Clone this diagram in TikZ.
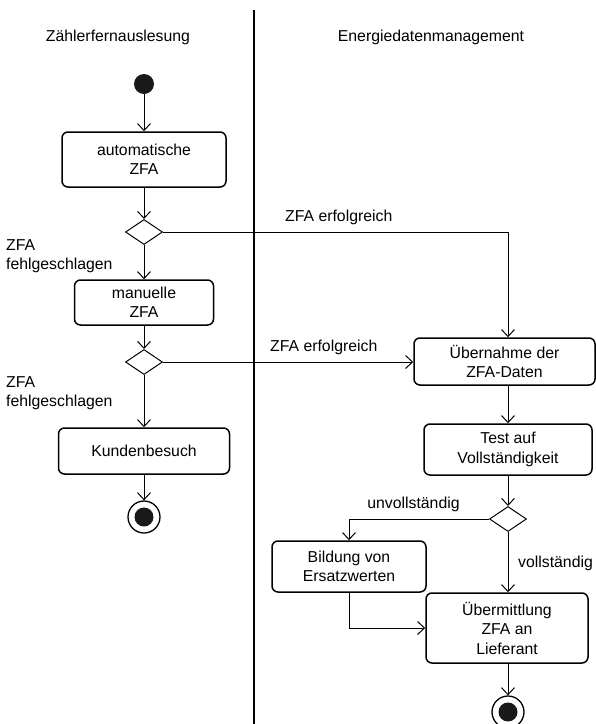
\documentclass[tikz,border=0pt]{standalone}
\usepackage{fontspec}
\setmainfont{Liberation Sans}
\usetikzlibrary{arrows.meta,shapes.geometric,calc}
\begin{document}
\begin{tikzpicture}[x=1pt,y=-1pt,
  every node/.style={font=\fontsize{15.8}{19.5}\selectfont, inner sep=0pt},
  action/.style={draw, line width=1.5pt, rounded corners=6pt, align=center},
  decision/.style={draw, line width=1pt, diamond, aspect=1.48, minimum width=37pt, minimum height=25pt, inner sep=0pt},
  flow/.style={line width=1pt, -{Straight Barb[length=7pt,width=13pt,line width=1pt]}},
  lbl/.style={align=left},
  startdot/.style={circle, fill=black!90, minimum size=20pt},
  enddot/.style={circle, draw, line width=1.3pt, minimum size=32pt, path picture={\fill[black!90] (path picture bounding box.center) circle (9.5pt);}}
]
\useasboundingbox (0,0) rectangle (596,724);

% swimlane divider and headings
\draw[line width=1.8pt] (254,10) -- (254,724);
\node[anchor=base] (h1) at (118,41) {Zählerfernauslesung};
\node[anchor=base] (h2) at (431,41) {Energiedatenmanagement};

% left lane
\node[startdot] (start) at (144,84) {};
\node[action, minimum width=164pt, minimum height=55pt] (auto) at (144,159.5) {automatische\\ZFA};
\node[decision] (d1) at (144,232) {};
\node[action, minimum width=139pt, minimum height=45pt] (man) at (144,302.5) {manuelle\\ZFA};
\node[decision] (d2) at (144,362) {};
\node[action, minimum width=171pt, minimum height=46pt] (kunde) at (144,451) {Kundenbesuch};
\node[enddot] (end1) at (144,517) {};

% right lane
\node[action, minimum width=181pt, minimum height=47pt] (ueber) at (504.5,361.5) {Übernahme der\\ZFA-Daten};
\node[action, minimum width=168pt, minimum height=51pt] (test) at (508,449.5) {Test auf\\Vollständigkeit};
\node[decision] (d3) at (508,519) {};
\node[action, minimum width=154pt, minimum height=51pt] (bild) at (349,566.5) {Bildung von\\Ersatzwerten};
\node[action, minimum width=162pt, minimum height=70pt] (uebm) at (507,628) {Übermittlung\\ZFA an\\Lieferant};
\node[enddot] (end2) at (508,712) {};

% connectors
\draw[flow] (start) -- (auto);
\draw[flow] (auto) -- (d1);
\draw[flow] (d1) -- (man);
\draw[flow] (man) -- (d2);
\draw[flow] (d2) -- (kunde);
\draw[flow] (kunde) -- (end1);
\draw[flow] (d1.east) -| (test.north |- ueber.north);
\draw[flow] (d2.east) -- (d2.east -| ueber.west);
\draw[flow] (test.north |- ueber.south) -- (test.north);
\draw[flow] (test) -- (d3);
\draw[flow] (d3.west) -| (bild.north);
\draw[flow] (d3.south) -- (d3.south |- uebm.north);
\draw[flow] (bild.south) |- (uebm.west);
\draw[flow] (d3.south |- uebm.south) -- (end2);

% guard labels
\node[anchor=west] (l1) at (285,217) {ZFA erfolgreich};
\node[anchor=west] (l2) at (270,347) {ZFA erfolgreich};
\node[anchor=west, lbl] (l3) at (6,256) {ZFA\\fehlgeschlagen};
\node[anchor=west, lbl] (l4) at (6,393) {ZFA\\fehlgeschlagen};
\node (l5) at (413.5,504) {unvollständig};
\node[anchor=west] (l6) at (518,563) {vollständig};
\end{tikzpicture}
\end{document}
